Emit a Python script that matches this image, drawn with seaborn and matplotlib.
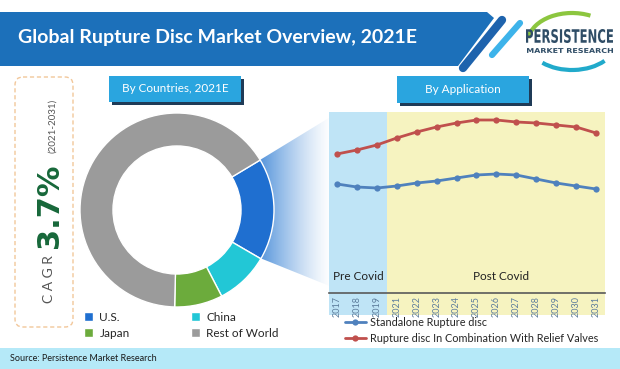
import numpy as np
import pandas as pd
import matplotlib
matplotlib.use("Agg")
import matplotlib.pyplot as plt
import seaborn as sns
from matplotlib.patches import Polygon, Rectangle, FancyBboxPatch, Arc, PathPatch
from matplotlib.textpath import TextPath
from matplotlib.font_manager import FontProperties
from matplotlib.transforms import Affine2D

# canvas size in pixels
W, H = 620, 369

# --- data -------------------------------------------------------------
countries = ["U.S.", "China", "Japan", "Rest of World"]
country_share = [17, 9, 8, 66]
country_colors = ["#1f6fd0", "#22c7d6", "#6cab3c", "#9b9b9b"]

years = ["2017", "2018", "2019", "2021", "2022", "2023", "2024",
         "2025", "2026", "2027", "2028", "2029", "2030", "2031"]
standalone = [108, 105, 104, 106, 109, 111, 114, 117, 118, 117, 113, 109, 106, 103]
with_valves = [138, 142, 147, 154, 160, 165, 169, 172, 172, 170, 169, 167, 165, 159]
series_names = ["Standalone Rupture disc", "Rupture disc In Combination With Relief Valves"]
series_colors = ["#4f81bd", "#c0504d"]

cagr_text = "3.7%"
cagr_period = "(2021-2031)"

sns.set_theme(style="white")
plt.rcParams["font.family"] = ["Lato", "DejaVu Sans"]


def frac(x0, y0, x1, y1):
    # pixel box (top-left origin) -> figure fraction rect
    return [x0 / W, 1 - y1 / H, (x1 - x0) / W, (y1 - y0) / H]


fig = plt.figure(figsize=(W / 100, H / 100), dpi=100)
fig.patch.set_facecolor("white")

# background layer in pixel coordinates
bg = fig.add_axes([0, 0, 1, 1])
bg.set_axis_off()

# header banner
bg.add_patch(Polygon([(0, 12), (487, 12), (494, 18), (458, 66), (0, 66)],
                     closed=True, color="#1c70ba", lw=0))
bg.plot([502, 463], [20, 68], color="#1e63ad", lw=6, solid_capstyle="round")
bg.plot([520, 492], [23, 55], color="#3db3ea", lw=4.5, solid_capstyle="round")
bg.text(18, 38, "Global Rupture Disc Market Overview, 2021E", color="white",
        fontsize=14, fontweight="bold", ha="left", va="center")

# logo
bg.add_patch(Arc((572, 42), 88, 58, theta1=185, theta2=305, color="#8cc63f", lw=3))
bg.add_patch(Arc((572, 42), 88, 56, theta1=30, theta2=145, color="#21aacb", lw=3))


def path_text(s, x0, x1, base, top, color):
    tp = TextPath((0, 0), s, size=1, prop=FontProperties(family="DejaVu Sans", weight="bold"))
    ext = tp.get_extents()
    sx = (x1 - x0) / ext.width
    sy = (base - top) / ext.height
    tr = Affine2D().translate(-ext.x0, -ext.y0).scale(sx, -sy).translate(x0, base)
    bg.add_patch(PathPatch(tr.transform_path(tp), color=color, lw=0))


path_text("PERSISTENCE", 526, 613, 43, 29, "#2f4d66")
path_text("MARKET RESEARCH", 527, 613, 53, 48, "#2f4d66")

# CAGR box
bg.add_patch(FancyBboxPatch((15, 77), 58, 250, boxstyle="round,pad=0,rounding_size=8",
                            fc="none", ec="#f2c79a", lw=1, ls=(0, (3, 2))))
bg.text(53, 303, "C A G R", rotation=90, rotation_mode="anchor", ha="left",
        va="baseline", fontsize=10, color="#555555")
bg.text(58, 248, cagr_text, rotation=90, rotation_mode="anchor", ha="left",
        va="baseline", fontsize=22, fontweight="bold", color="#17683a",
        family=["DejaVu Sans"])
bg.text(55, 153, cagr_period, rotation=90, rotation_mode="anchor", ha="left",
        va="baseline", fontsize=7, color="#555555")

# section label boxes
for (x0, y0, x1, y1), label in [((109, 76, 241, 102), "By Countries, 2021E"),
                                ((397, 76, 529, 103), "By Application")]:
    bg.add_patch(Rectangle((x0 + 3, y0 + 3), x1 - x0, y1 - y0, color="#1f3b57", lw=0))
    bg.add_patch(Rectangle((x0, y0), x1 - x0, y1 - y0, color="#2aa5df", lw=0))
    bg.text((x0 + x1) / 2, (y0 + y1) / 2, label, color="white", fontsize=8.5,
            ha="center", va="center")

# fan linking U.S. wedge to the application chart
grad = np.zeros((2, 200, 4))
t = np.linspace(0, 1, 200)
grad[..., 0] = 0.15
grad[..., 1] = 0.47
grad[..., 2] = 0.82
grad[..., 3] = 0.85 * (1 - t) ** 1.3
fan = Polygon([(255, 163), (332, 116), (332, 287), (255, 256)], closed=True,
              fc="none", lw=0)
bg.add_patch(fan)
im = bg.imshow(grad, extent=(255, 332, 290, 112), aspect="auto", zorder=0.5)
im.set_clip_path(fan)

# footer
bg.add_patch(Rectangle((0, 348), W, H - 348, color="#b5e9f8", lw=0))
bg.text(10, 358.5, "Source: Persistence Market Research", fontsize=6.5,
        color="#1a1a1a", ha="left", va="center")

bg.set_xlim(0, W)
bg.set_ylim(H, 0)

# --- donut ------------------------------------------------------------
ax_d = fig.add_axes(frac(80, 113, 274, 307))
wedges, _ = ax_d.pie(country_share, colors=country_colors, startangle=31,
                     counterclock=False,
                     wedgeprops=dict(width=0.34, edgecolor="white", linewidth=1))
ax_d.set_xlim(-1, 1)
ax_d.set_ylim(-1, 1)
ax_d.legend([wedges[0], wedges[2], wedges[1], wedges[3]],
            [countries[0], countries[2], countries[1], countries[3]],
            ncol=2, loc="upper left", bbox_to_anchor=(84 / W, 1 - 312 / H),
            bbox_transform=fig.transFigure, frameon=False, fontsize=8.5,
            handlelength=0.8, handleheight=0.8, handletextpad=0.5,
            columnspacing=5.2, labelspacing=0.4, borderpad=0, borderaxespad=0)

# --- application lines ------------------------------------------------
ax_l = fig.add_axes(frac(329, 112, 605, 293))
ax_l.patch.set_alpha(0)
df = pd.DataFrame({"pos": range(len(years)), series_names[0]: standalone,
                   series_names[1]: with_valves})
for name, col in zip(series_names, series_colors):
    sns.lineplot(data=df, x="pos", y=name, ax=ax_l, color=col, marker="o",
                 markersize=4.5, markeredgewidth=0, linewidth=2, label=name)

x_lo, x_split, x_hi = -0.4, 2.5, 13.45
ax_l.axvspan(x_lo, x_split, ymin=-0.122, ymax=1, color="#bfe4f6", lw=0,
             zorder=0, clip_on=False)
ax_l.axvspan(x_split, x_hi, ymin=-0.122, ymax=1, color="#f6f3c0", lw=0,
             zorder=0, clip_on=False)
ax_l.text((x_lo + x_split) / 2, 15, "Pre Covid", fontsize=8.5, color="#222222",
          ha="center", va="center")
ax_l.text(8.25, 15, "Post Covid", fontsize=8.5, color="#222222",
          ha="center", va="center")

ax_l.set_xlim(x_lo, x_hi)
ax_l.set_ylim(-1, 180)
ax_l.set_xticks(range(len(years)))
ax_l.set_xticklabels(years)
ax_l.set_yticks([])
ax_l.set_xlabel("")
ax_l.set_ylabel("")
ax_l.tick_params(axis="x", length=0, pad=2, labelsize=6.5, labelcolor="#5d7d9c",
                 labelrotation=90)
sns.despine(ax=ax_l, left=True)
ax_l.spines["bottom"].set_color("#595959")
ax_l.spines["bottom"].set_linewidth(1.2)

ax_l.legend(loc="upper left", bbox_to_anchor=(345 / W, 1 - 317 / H),
            bbox_transform=fig.transFigure, frameon=False, fontsize=7.8,
            handlelength=1.9, handletextpad=0.4, labelspacing=0.45,
            borderpad=0, borderaxespad=0)

fig.savefig("out.png", dpi=100)
